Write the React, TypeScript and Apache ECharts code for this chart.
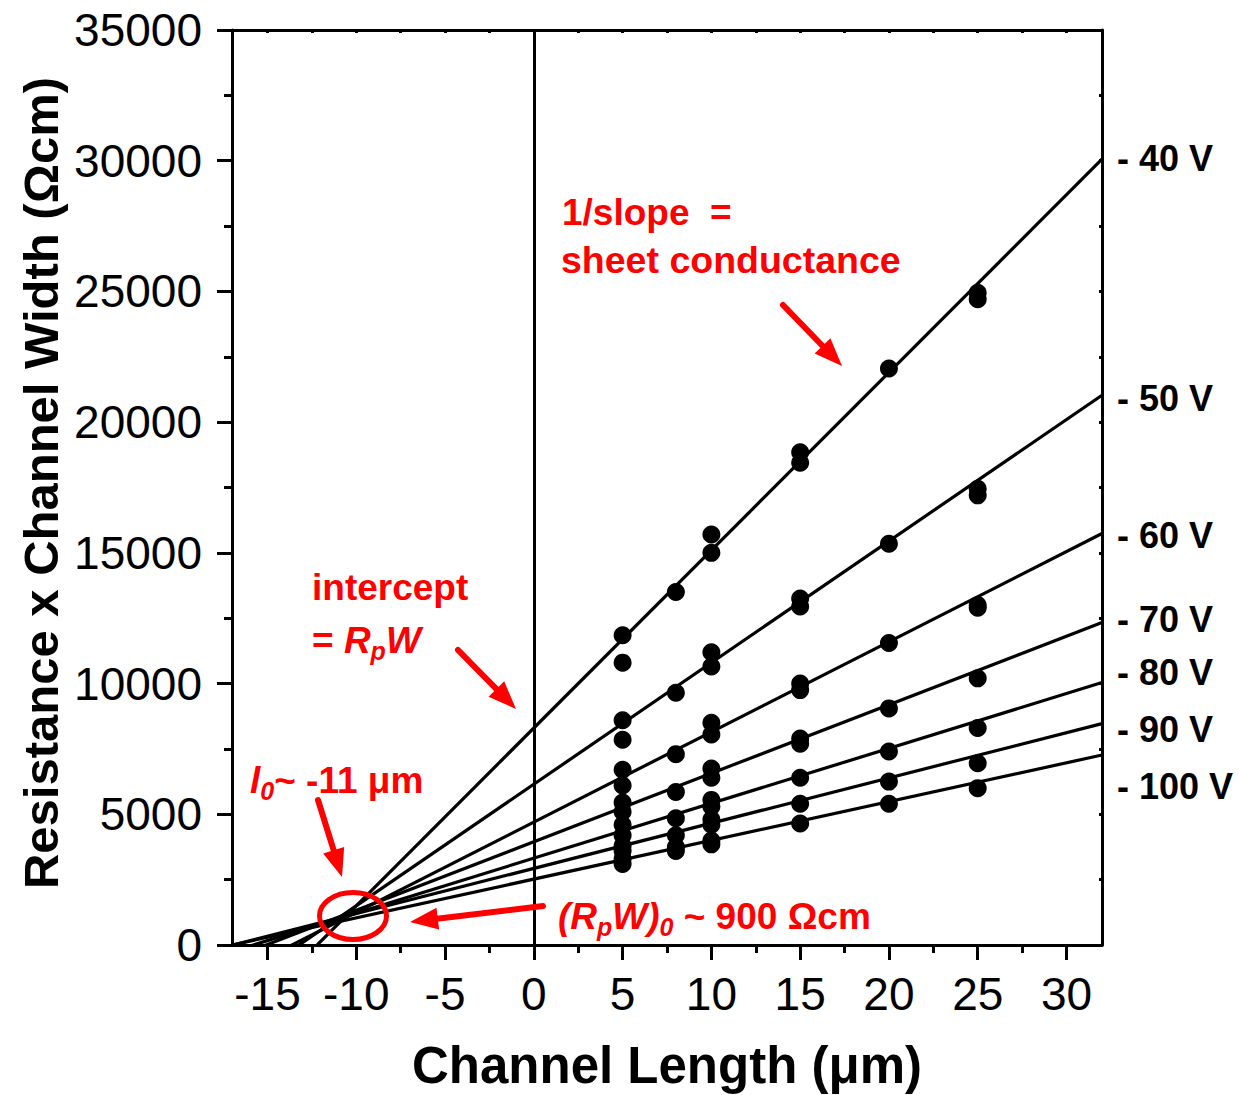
import React, { useEffect, useRef } from "react";
import * as echarts from "echarts";

// ---------- data ----------
const voltageLabels = ["- 40 V", "- 50 V", "- 60 V", "- 70 V", "- 80 V", "- 90 V", "- 100 V"];
// linear fits: R*W = intercept + slope * L
const fitSlopes = [680, 465, 345, 262, 210, 173, 148.3];
const fitIntercepts = [8300, 6150, 4700, 3950, 3320, 2930, 2520];
const fitRange = [-17, 32];

const pts40: [number, number][] = [[5, 11850], [5, 10800], [8, 13500], [10, 15700], [10, 15000], [15, 18850], [15, 18450], [20, 22050], [25, 24950], [25, 24700]];
const pts50: [number, number][] = [[5, 8600], [5, 7850], [8, 9650], [10, 11200], [10, 10650], [15, 13250], [15, 12950], [20, 15350], [25, 17450], [25, 17200]];
const pts60: [number, number][] = [[5, 6700], [5, 6100], [8, 7300], [10, 8500], [10, 8050], [15, 10000], [15, 9750], [20, 11550], [25, 13000], [25, 12900]];
const pts70: [number, number][] = [[5, 5450], [5, 5100], [8, 5850], [10, 6750], [10, 6400], [15, 7900], [15, 7700], [20, 9050], [25, 10200]];
const pts80: [number, number][] = [[5, 4600], [5, 4200], [8, 4850], [10, 5550], [10, 5300], [15, 6400], [20, 7400], [25, 8300]];
const pts90: [number, number][] = [[5, 3800], [5, 3600], [8, 4200], [10, 4800], [10, 4600], [15, 5400], [20, 6250], [25, 6950]];
const pts100: [number, number][] = [[5, 3300], [5, 3100], [8, 3600], [8, 3750], [10, 4000], [10, 3850], [15, 4650], [20, 5400], [25, 6000]];
const allPoints = [pts40, pts50, pts60, pts70, pts80, pts90, pts100];

const xMajorTicks = [-15, -10, -5, 0, 5, 10, 15, 20, 25, 30];
const xMinorTicks = [-12.5, -7.5, -2.5, 2.5, 7.5, 12.5, 17.5, 22.5, 27.5];
const xTopTicks = [-15, -12.5, -10, -7.5, -5, -2.5, 0, 2.5, 5, 7.5, 10, 12.5, 15, 17.5, 20, 22.5, 25, 27.5, 30];

// ---------- styling ----------
const FONT = "'Liberation Sans', Arial, Helvetica, sans-serif";
const RED = "#ff0000";
const BLACK = "#000000";
const labelYs = [158, 398, 535, 619, 672, 729, 786];

function arrow(x1: number, y1: number, x2: number, y2: number, headLen = 28, headW = 22, w = 6) {
  const dx = x2 - x1;
  const dy = y2 - y1;
  const L = Math.hypot(dx, dy);
  const ux = dx / L;
  const uy = dy / L;
  const bx = x2 - ux * headLen;
  const by = y2 - uy * headLen;
  const px = -uy;
  const py = ux;
  return [
    {
      type: "line",
      z: 100,
      shape: { x1, y1, x2: bx + ux * 3, y2: by + uy * 3 },
      style: { stroke: RED, lineWidth: w, lineCap: "round" },
    },
    {
      type: "polygon",
      z: 100,
      shape: {
        points: [
          [x2, y2],
          [bx + (px * headW) / 2, by + (py * headW) / 2],
          [bx - (px * headW) / 2, by - (py * headW) / 2],
        ],
      },
      style: { fill: RED },
    },
  ];
}

const redRich = {
  n: { fontFamily: FONT, fontSize: 37, fontWeight: "bold", fill: RED, color: RED },
  i: { fontFamily: FONT, fontSize: 37, fontWeight: "bold", fontStyle: "italic", fill: RED, color: RED },
  s: { fontFamily: FONT, fontSize: 25, fontWeight: "bold", fontStyle: "italic", fill: RED, color: RED, padding: [22, 0, 0, 0] },
};

export default function App() {
  const ref = useRef<HTMLDivElement>(null);
  useEffect(() => {
    if (!ref.current) return;
    const chart = echarts.init(ref.current, null, { renderer: "svg" });

    const lineSeries = voltageLabels.map((name, i) => ({
      name: name + " fit",
      type: "line",
      xAxisIndex: 0,
      yAxisIndex: 0,
      data: fitRange.map((x) => [x, fitIntercepts[i] + fitSlopes[i] * x]),
      showSymbol: false,
      symbol: "none",
      clip: true,
      lineStyle: { color: BLACK, width: 3.2 },
      z: 2,
      ...(i === 0
        ? {
            markLine: {
              silent: true,
              symbol: "none",
              label: { show: false },
              lineStyle: { color: BLACK, width: 3, type: "solid" },
              data: [{ xAxis: 0 }],
            },
          }
        : {}),
    }));

    const scatterSeries = voltageLabels.map((name, i) => ({
      name,
      type: "scatter",
      xAxisIndex: 0,
      yAxisIndex: 0,
      data: allPoints[i],
      symbol: "circle",
      symbolSize: 18,
      itemStyle: { color: BLACK, opacity: 1 },
      z: 3,
    }));

    const axisLineStyle = { color: BLACK, width: 3 };

    const graphics: any[] = [
      // axis titles
      {
        type: "text",
        x: 667,
        y: 1065,
        z: 100,
        style: {
          text: "Channel Length (\u03bcm)",
          fontFamily: FONT,
          fontSize: 51,
          fontWeight: "bold",
          fill: BLACK,
          align: "center",
          verticalAlign: "middle",
        },
      },
      {
        type: "text",
        x: 41,
        y: 483,
        rotation: Math.PI / 2,
        z: 100,
        style: {
          text: "Resistance x Channel Width (\u03a9cm)",
          fontFamily: FONT,
          fontSize: 49,
          fontWeight: "bold",
          fill: BLACK,
          align: "center",
          verticalAlign: "middle",
        },
      },
      // voltage labels
      ...voltageLabels.map((t, i) => ({
        type: "text",
        x: 1117,
        y: labelYs[i],
        z: 100,
        style: {
          text: t,
          fontFamily: FONT,
          fontSize: 36,
          fontWeight: "bold",
          fill: BLACK,
          align: "left",
          verticalAlign: "middle",
        },
      })),
      // red annotations
      {
        type: "text",
        x: 562,
        y: 212,
        z: 100,
        style: { text: "1/slope  =", fontFamily: FONT, fontSize: 37, fontWeight: "bold", fill: RED, align: "left", verticalAlign: "middle" },
      },
      {
        type: "text",
        x: 561,
        y: 260,
        z: 100,
        style: { text: "sheet conductance", fontFamily: FONT, fontSize: 37.5, fontWeight: "bold", fill: RED, align: "left", verticalAlign: "middle" },
      },
      {
        type: "text",
        x: 312,
        y: 587,
        z: 100,
        style: { text: "intercept", fontFamily: FONT, fontSize: 37, fontWeight: "bold", fill: RED, align: "left", verticalAlign: "middle" },
      },
      {
        type: "text",
        x: 312,
        y: 640,
        z: 100,
        style: {
          text: "{n|= }{i|R}{s|p}{i|W}",
          rich: redRich,
          fill: RED,
          align: "left",
          verticalAlign: "middle",
        },
      },
      {
        type: "text",
        x: 250,
        y: 780,
        z: 100,
        style: {
          text: "{i|l}{s|0}{n|~ -11 \u03bcm}",
          rich: redRich,
          fill: RED,
          align: "left",
          verticalAlign: "middle",
        },
      },
      {
        type: "text",
        x: 558,
        y: 916,
        z: 100,
        style: {
          text: "{i|(R}{s|p}{i|W)}{s|0}{n| ~ 900 \u03a9cm}",
          rich: redRich,
          fill: RED,
          align: "left",
          verticalAlign: "middle",
        },
      },
      {
        type: "ellipse",
        z: 101,
        shape: { cx: 353, cy: 916, rx: 33.5, ry: 23.5 },
        style: { fill: "none", stroke: RED, lineWidth: 5 },
      },
      ...arrow(783, 305, 842, 366),
      ...arrow(458, 650, 516, 709),
      ...arrow(318, 800, 342, 877),
      ...arrow(543, 906, 410, 922),
    ];

    chart.setOption({
      animation: false,
      backgroundColor: "#ffffff",
      grid: { left: 232, top: 30, right: 137, bottom: 150, containLabel: false },
      xAxis: [
        {
          type: "value",
          min: fitRange[0],
          max: fitRange[1],
          position: "bottom",
          axisLine: { show: true, onZero: false, lineStyle: axisLineStyle },
          axisTick: { show: true, customValues: xMajorTicks, length: 15, lineStyle: axisLineStyle },
          axisLabel: { show: true, customValues: xMajorTicks, fontFamily: FONT, fontSize: 46, color: BLACK, margin: 26 },
          splitLine: { show: false },
        },
        {
          type: "value",
          min: fitRange[0],
          max: fitRange[1],
          position: "bottom",
          axisLine: { show: false, onZero: false },
          axisTick: { show: true, customValues: xMinorTicks, length: 8, lineStyle: axisLineStyle },
          axisLabel: { show: false },
          splitLine: { show: false },
        },
        {
          type: "value",
          min: fitRange[0],
          max: fitRange[1],
          position: "top",
          axisLine: { show: true, onZero: false, lineStyle: axisLineStyle },
          axisTick: { show: true, inside: true, customValues: xTopTicks, length: 3, lineStyle: axisLineStyle },
          axisLabel: { show: false },
          splitLine: { show: false },
        },
      ],
      yAxis: [
        {
          type: "value",
          min: 0,
          max: 35000,
          interval: 5000,
          position: "left",
          axisLine: { show: true, onZero: false, lineStyle: axisLineStyle },
          axisTick: { show: true, length: 15, lineStyle: axisLineStyle },
          minorTick: { show: true, splitNumber: 2, length: 8, lineStyle: axisLineStyle },
          axisLabel: {
            show: true,
            fontFamily: FONT,
            fontSize: 46,
            color: BLACK,
            margin: 30,
            formatter: (v: number) => String(v),
          },
          splitLine: { show: false },
          minorSplitLine: { show: false },
        },
        {
          type: "value",
          min: 0,
          max: 35000,
          interval: 2500,
          position: "right",
          axisLine: { show: true, onZero: false, lineStyle: axisLineStyle },
          axisTick: { show: true, inside: true, length: 3, lineStyle: axisLineStyle },
          axisLabel: { show: false },
          splitLine: { show: false },
        },
      ],
      series: [...lineSeries, ...scatterSeries],
      graphic: graphics,
    });

    return () => chart.dispose();
  }, []);

  return (
    <div
      ref={ref}
      style={{ position: "absolute", left: 0, top: 0, width: 1239, height: 1095, background: "#fff" }}
    />
  );
}
